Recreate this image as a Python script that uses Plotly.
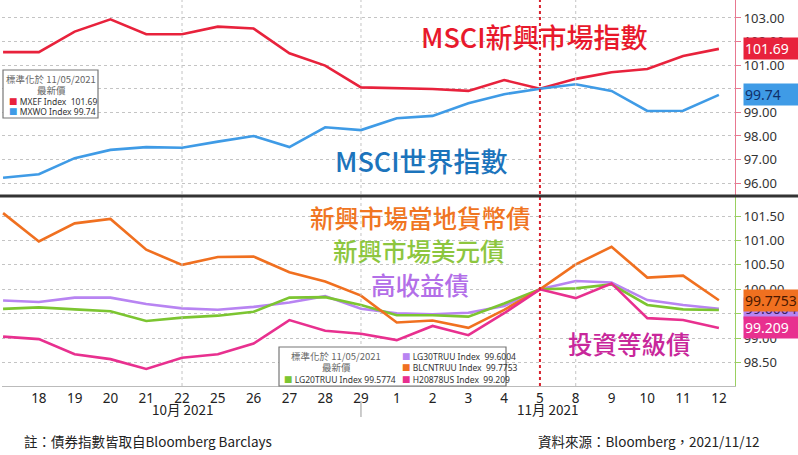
import plotly.graph_objects as go
from plotly.subplots import make_subplots

# trading days, 2021/10/15 - 2021/11/12
days = ["10/15", "10/18", "10/19", "10/20", "10/21", "10/22", "10/25", "10/26", "10/27", "10/28", "10/29",
        "11/01", "11/02", "11/03", "11/04", "11/05", "11/08", "11/09", "11/10", "11/11", "11/12"]
tick_days = days[1:]
tick_text = [d.split("/")[1].lstrip("0") for d in tick_days]

# top panel, normalised to 100 on 11/05/2021
mxef = [101.55, 101.55, 102.42, 102.94, 102.31, 102.31, 102.63, 102.55, 101.50, 100.98, 100.06,
        100.02, 99.99, 99.91, 100.37, 100.00, 100.42, 100.70, 100.84, 101.39, 101.69]
mxwo = [96.23, 96.38, 97.06, 97.41, 97.53, 97.50, 97.76, 98.00, 97.53, 98.37, 98.25,
        98.75, 98.85, 99.39, 99.77, 100.00, 100.19, 99.91, 99.06, 99.07, 99.74]

# bottom panel
blcn = [101.56, 100.98, 101.35, 101.44, 100.81, 100.50, 100.66, 100.67, 100.35, 100.16, 99.87,
        99.32, 99.36, 99.21, 99.58, 100.00, 100.51, 100.87, 100.24, 100.28, 99.7753]
lg30 = [99.77, 99.74, 99.83, 99.83, 99.70, 99.61, 99.58, 99.64, 99.73, 99.86, 99.60,
        99.51, 99.49, 99.52, 99.66, 100.00, 100.17, 100.14, 99.78, 99.68, 99.6004]
lg20 = [99.60, 99.63, 99.59, 99.55, 99.35, 99.42, 99.46, 99.54, 99.83, 99.84, 99.68,
        99.47, 99.47, 99.44, 99.71, 100.00, 100.02, 100.10, 99.68, 99.59, 99.5774]
h208 = [99.03, 98.98, 98.67, 98.57, 98.37, 98.60, 98.67, 98.89, 99.37, 99.15, 99.09,
        98.96, 99.25, 99.06, 99.51, 100.00, 99.82, 100.12, 99.41, 99.37, 99.209]

top_ticks = [96, 97, 98, 99, 100, 101, 102, 103]
bot_ticks = [98.5, 99.0, 99.5, 100.0, 100.5, 101.0, 101.5]

RED, BLUE = "#e8223c", "#3f9be6"
ORANGE, GREEN, PURPLE, PINK = "#f07020", "#7cc531", "#b884f2", "#e8308f"
CJK = "Noto Sans CJK TC"

# plot area in pixels: x 2..735, y 0..386
W, H, L, R, T, B = 798, 455, 2, 63, 0, 69
PW, PH = W - L - R, H - T - B


def px(x):
    return (x - L) / PW


def py(y):
    return (PH - (y - T)) / PH


def note(x, y, text, font, xanchor="center", xref="paper", yref="paper", **kw):
    fig.add_annotation(xref=xref, yref=yref, x=x, y=y, text=text, showarrow=False, font=font,
                       xanchor=xanchor, yanchor="middle", **kw)


fig = make_subplots(rows=2, cols=1, shared_xaxes=True, vertical_spacing=0.01)

fig.add_trace(go.Scatter(x=days, y=mxef, mode="lines", line=dict(color=RED, width=2.6)), row=1, col=1)
fig.add_trace(go.Scatter(x=days, y=mxwo, mode="lines", line=dict(color=BLUE, width=2.6)), row=1, col=1)
fig.add_trace(go.Scatter(x=days, y=lg30, mode="lines", line=dict(color=PURPLE, width=2.6)), row=2, col=1)
fig.add_trace(go.Scatter(x=days, y=lg20, mode="lines", line=dict(color=GREEN, width=2.6)), row=2, col=1)
fig.add_trace(go.Scatter(x=days, y=blcn, mode="lines", line=dict(color=ORANGE, width=2.6)), row=2, col=1)
fig.add_trace(go.Scatter(x=days, y=h208, mode="lines", line=dict(color=PINK, width=2.6)), row=2, col=1)

# last-value tags on the right axis
x_tag = 20.56
tags = [
    (1, mxef[-1], RED, "white"),
    (1, mxwo[-1], BLUE, "#10306a"),
    (2, lg30[-1], PURPLE, "#3a2060"),
    (2, blcn[-1], ORANGE, "#4a1800"),
    (2, h208[-1], PINK, "white"),
]
for row, v, col, fc in tags:
    fig.add_trace(go.Scatter(x=[x_tag], y=[v], mode="markers", cliponaxis=False,
                             marker=dict(symbol="triangle-left", size=13, color=col)),
                  row=row, col=1)
    note(px(743), v, f"{v}", dict(family="Noto Sans", size=14, color=fc), xanchor="left",
         yref="y" if row == 1 else "y2", width=52, align="left", bgcolor=col, borderpad=1)

fig.update_xaxes(type="category", range=[-0.03, 20.45], showgrid=False, zeroline=False, automargin=False)
fig.update_xaxes(showticklabels=False, ticks="", row=1, col=1)
fig.update_xaxes(tickvals=tick_days, ticktext=tick_text, ticks="",
                 showline=True, linecolor="#bbb",
                 tickfont=dict(family="Noto Sans", size=13.5, color="#222"), row=2, col=1)

fig.update_yaxes(side="right", showgrid=True, gridcolor="#c4c4c4", griddash="dot", gridwidth=1,
                 zeroline=False, tickformat=".2f", ticks="outside", ticklen=5, automargin=False,
                 tickfont=dict(family="Noto Sans", size=13, color="#333"), showline=True, linewidth=1.2)
fig.update_yaxes(range=[95.5, 103.76], tickvals=top_ticks, linecolor="#e87890", tickcolor="#e87890",
                 row=1, col=1)
fig.update_yaxes(range=[98.02, 101.89], tickvals=bot_ticks, linecolor="#9ad060", tickcolor="#9ad060",
                 row=2, col=1)

fig.update_layout(
    width=W, height=H, margin=dict(l=L, r=R, t=T, b=B, autoexpand=False),
    paper_bgcolor="white", plot_bgcolor="white", showlegend=False, hovermode=False,
    xaxis=dict(domain=[0, 1]), xaxis2=dict(domain=[0, 1]),
    yaxis=dict(domain=[py(195), 1]), yaxis2=dict(domain=[0, py(197)]),
)

# weekly dotted verticals, 11/05 red dashed marker
for d in ["10/22", "10/29", "11/08"]:
    fig.add_shape(type="line", xref="x", yref="paper", x0=days.index(d), x1=days.index(d), y0=0, y1=1,
                  line=dict(color="#c4c4c4", width=1, dash="dot"))
i5 = days.index("11/05")
fig.add_shape(type="line", xref="x", yref="paper", x0=i5, x1=i5, y0=0, y1=1,
              line=dict(color="#d8202c", width=2, dash="3px,3px"))

# panel divider
fig.add_shape(type="line", xref="paper", yref="paper", x0=px(0), x1=px(798), y0=py(196), y1=py(196),
              line=dict(color="#333", width=3))

# month separator + labels
i29 = days.index("10/29")
fig.add_shape(type="line", xref="x", yref="paper", x0=i29, x1=i29, y0=py(401), y1=py(417),
              line=dict(color="#999", width=1))
MF = dict(family=CJK, size=13.5, color="#222")
note(days.index("10/22"), py(409), "10月 2021", MF, xref="x")
note(15.2, py(409), "11月 2021", MF, xref="x")

# series captions
captions = [
    ("MSCI新興市場指數", 534, 36, "#e8192c", 27),
    ("MSCI世界指數", 421, 160, "#1c74bc", 27),
    ("新興市場當地貨幣債", 420, 217, "#f07522", 24.5),
    ("新興市場美元債", 419, 250, "#8dc63f", 24.5),
    ("高收益債", 420, 284, "#b36fe8", 24.5),
    ("投資等級債", 629, 343, "#c8279b", 24.5),
]
for txt, cx, cy, col, sz in captions:
    note(px(cx), py(cy), txt, dict(family=CJK, size=sz, color=col, weight=500))

# legend boxes
LF = dict(family="Noto Sans, " + CJK, size=8.5, color="#333")
HF = dict(family=CJK, size=9.5, color="#666")


def sq(c):
    return f"<span style='color:{c}'>■</span> "


fig.add_shape(type="rect", xref="paper", yref="paper", x0=px(3), x1=px(98), y0=py(118), y1=py(70),
              line=dict(color="#777", width=1.2), fillcolor="white")
note(px(51), py(79), "標準化於 11/05/2021", HF)
note(px(51), py(90), "最新價", HF)
note(px(7), py(101), sq(RED) + f"MXEF Index  {mxef[-1]}", LF, xanchor="left")
note(px(7), py(111), sq(BLUE) + f"MXWO Index {mxwo[-1]}", LF, xanchor="left")

fig.add_shape(type="rect", xref="paper", yref="paper", x0=px(279), x1=px(506), y0=py(386), y1=py(347),
              line=dict(color="#777", width=1.2), fillcolor="white")
note(px(336), py(356), "標準化於 11/05/2021", HF)
note(px(336), py(367), "最新價", HF)
note(px(282), py(379), sq(GREEN) + f"LG20TRUU Index {lg20[-1]}", LF, xanchor="left")
rows = [(PURPLE, "LG30TRUU Index", lg30[-1], 356), (ORANGE, "BLCNTRUU Index", blcn[-1], 367),
        (PINK, "H20878US Index", h208[-1], 379)]
for c, name, v, yy in rows:
    note(px(400), py(yy), sq(c) + f"{name}  {v}", LF, xanchor="left")

# footer
FF = dict(family=CJK, size=13.5, color="#222")
note(px(22), py(441), "註：債券指數皆取自Bloomberg Barclays", FF, xanchor="left")
note(px(762), py(441), "資料來源：Bloomberg，2021/11/12", FF, xanchor="right")

# page body has an 8px default margin; drop it so the figure sits at the window's corner
fig.write_html("out.html", config={"displayModeBar": False},
               post_script="document.body.style.margin='0';")
